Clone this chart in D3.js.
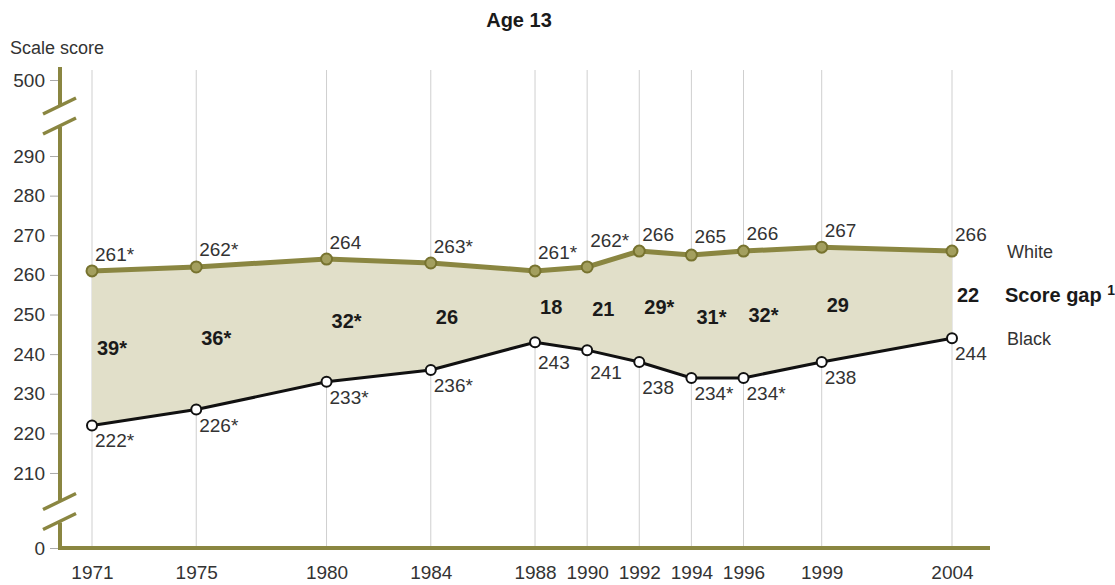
<!DOCTYPE html>
<html>
<head>
<meta charset="utf-8">
<script src="https://cdn.jsdelivr.net/npm/d3@7"></script>
<style>
  html, body { margin: 0; padding: 0; background: #fff; }
  svg { display: block; font-family: "Liberation Sans", Arial, sans-serif; }
</style>
</head>
<body>
<svg id="chart" width="1115" height="585"></svg>
<script>
const years = [1971, 1975, 1980, 1984, 1988, 1990, 1992, 1994, 1996, 1999, 2004];
const whiteScores = [261, 262, 264, 263, 261, 262, 266, 265, 266, 267, 266];
const blackScores = [222, 226, 233, 236, 243, 241, 238, 234, 234, 238, 244];
const whiteLabels = ["261*", "262*", "264", "263*", "261*", "262*", "266", "265", "266", "267", "266"];
const blackLabels = ["222*", "226*", "233*", "236*", "243", "241", "238", "234*", "234*", "238", "244"];
const gapLabels = ["39*", "36*", "32*", "26", "18", "21", "29*", "31*", "32*", "29", "22"];
const yTicks = [0, 210, 220, 230, 240, 250, 260, 270, 280, 290, 500];
const title = "Age 13";
const yTitle = "Scale score";
const seriesNames = ["White", "Score gap", "Black"];

const olive = "#8a8641";
const oliveMarker = "#a39f5e";
const fillCol = "#e1dfc9";
const textCol = "#333";

const svg = d3.select("#chart");

const x = d3.scaleLinear().domain([1971, 2004]).range([92, 952]);
// polylinear scale with broken axis segments
const y = d3.scaleLinear().domain([0, 200, 300, 500]).range([548, 512.6, 116.4, 80]);

const axisX = 60;
const bottomY = y(0);
const topY = 67;

// gridlines
svg.append("g").selectAll("line").data(years).join("line")
  .attr("x1", d => x(d)).attr("x2", d => x(d))
  .attr("y1", topY + 3).attr("y2", bottomY)
  .attr("stroke", "#cfcfcf").attr("stroke-width", 1);

// y axis ticks + labels
const yAxis = d3.axisLeft(y).tickValues(yTicks).tickSize(9).tickPadding(5).tickFormat(d3.format("d"));
const yg = svg.append("g").attr("transform", `translate(${axisX - 1},0)`).call(yAxis);
yg.select(".domain").remove();
yg.selectAll(".tick line").attr("stroke", "#aaa").attr("stroke-width", 1);
yg.selectAll(".tick text").attr("fill", textCol).style("font-size", "19px").attr("x", -14);

// x axis labels
const xAxis = d3.axisBottom(x).tickValues(years).tickSize(0).tickPadding(18).tickFormat(d3.format("d"));
const xg = svg.append("g").attr("transform", `translate(0,${bottomY})`).call(xAxis);
xg.select(".domain").remove();
xg.selectAll(".tick text").attr("fill", textCol).style("font-size", "19px");

// broken axis line
const topBreak = (y(500) + y(290)) / 2 - 2;
const botBreak = (y(210) + y(0)) / 2 + 1;
const axG = svg.append("g").attr("stroke", olive).attr("stroke-width", 4).attr("fill", "none");
axG.append("line").attr("x1", axisX).attr("x2", axisX).attr("y1", topY).attr("y2", topBreak - 11);
axG.append("line").attr("x1", axisX).attr("x2", axisX).attr("y1", topBreak + 11).attr("y2", botBreak - 11);
axG.append("line").attr("x1", axisX).attr("x2", axisX).attr("y1", botBreak + 11).attr("y2", bottomY + 2);
axG.append("line").attr("x1", axisX - 2).attr("x2", 990).attr("y1", bottomY).attr("y2", bottomY);
[topBreak, botBreak].forEach(c => {
  [-10, 10].forEach(o => {
    axG.append("line")
      .attr("x1", axisX - 17).attr("y1", c + o + 8)
      .attr("x2", axisX + 16).attr("y2", c + o - 8)
      .attr("stroke-width", 3.5);
  });
});

const data = years.map((yr, i) => ({ yr, w: whiteScores[i], b: blackScores[i], wl: whiteLabels[i], bl: blackLabels[i], gl: gapLabels[i], i }));

// area
const area = d3.area().x(d => x(d.yr)).y0(d => y(d.b)).y1(d => y(d.w));
svg.append("path").datum(data).attr("d", area).attr("fill", fillCol);

// lines
svg.append("path").datum(data)
  .attr("d", d3.line().x(d => x(d.yr)).y(d => y(d.w)))
  .attr("fill", "none").attr("stroke", olive).attr("stroke-width", 5);
svg.append("path").datum(data)
  .attr("d", d3.line().x(d => x(d.yr)).y(d => y(d.b)))
  .attr("fill", "none").attr("stroke", "#111").attr("stroke-width", 3);

// markers
svg.append("g").selectAll("circle").data(data).join("circle")
  .attr("cx", d => x(d.yr)).attr("cy", d => y(d.w)).attr("r", 5.5)
  .attr("fill", oliveMarker).attr("stroke", "#77732f").attr("stroke-width", 2);
svg.append("g").selectAll("circle").data(data).join("circle")
  .attr("cx", d => x(d.yr)).attr("cy", d => y(d.b)).attr("r", 5)
  .attr("fill", "#fff").attr("stroke", "#111").attr("stroke-width", 2);

// helper: line y at pixel px for a series
function lineYAt(key, px) {
  for (let k = 0; k < data.length - 1; k++) {
    const x0 = x(data[k].yr), x1 = x(data[k + 1].yr);
    if (px >= x0 && px <= x1) {
      const t = (px - x0) / (x1 - x0);
      return y(data[k][key]) * (1 - t) + y(data[k + 1][key]) * t;
    }
  }
  return y(data[data.length - 1][key]);
}

// value labels
svg.append("g").selectAll("text").data(data).join("text")
  .attr("x", d => x(d.yr) + 3)
  .attr("y", d => Math.min(y(d.w) - 10, lineYAt("w", x(d.yr) + 35) - 9))
  .attr("fill", textCol).style("font-size", "19px")
  .text(d => d.wl);
svg.append("g").selectAll("text").data(data).join("text")
  .attr("x", d => x(d.yr) + 3)
  .attr("y", d => Math.max(y(d.b) + 22, lineYAt("b", x(d.yr) + 35) + 21))
  .attr("fill", textCol).style("font-size", "19px")
  .text(d => d.bl);

// gap labels
svg.append("g").selectAll("text").data(data).join("text")
  .attr("x", d => x(d.yr) + 5)
  .attr("y", d => (y(d.w) + y(d.b)) / 2)
  .attr("dy", "0.36em")
  .attr("fill", "#1a1a1a").style("font-size", "20px").style("font-weight", "bold")
  .text(d => d.gl);

// legend
const last = data[data.length - 1];
const lx = x(last.yr) + 55;
svg.append("text").attr("x", lx).attr("y", y(last.w)).attr("dy", "0.36em")
  .attr("fill", textCol).style("font-size", "18px").text(seriesNames[0]);
const sg = svg.append("text").attr("x", lx - 2).attr("y", (y(last.w) + y(last.b)) / 2).attr("dy", "0.36em")
  .attr("fill", "#1a1a1a").style("font-size", "20px").style("font-weight", "bold");
sg.append("tspan").text(seriesNames[1] + " ");
sg.append("tspan").attr("dy", "-0.5em").style("font-size", "14px").text("1");
svg.append("text").attr("x", lx).attr("y", y(last.b)).attr("dy", "0.36em")
  .attr("fill", textCol).style("font-size", "18px").text(seriesNames[2]);

// titles
svg.append("text").attr("x", 519).attr("y", 27).attr("text-anchor", "middle")
  .attr("fill", "#1a1a1a").style("font-size", "20px").style("font-weight", "bold").text(title);
svg.append("text").attr("x", 10).attr("y", 54)
  .attr("fill", textCol).style("font-size", "18px").text(yTitle);
</script>
</body>
</html>
